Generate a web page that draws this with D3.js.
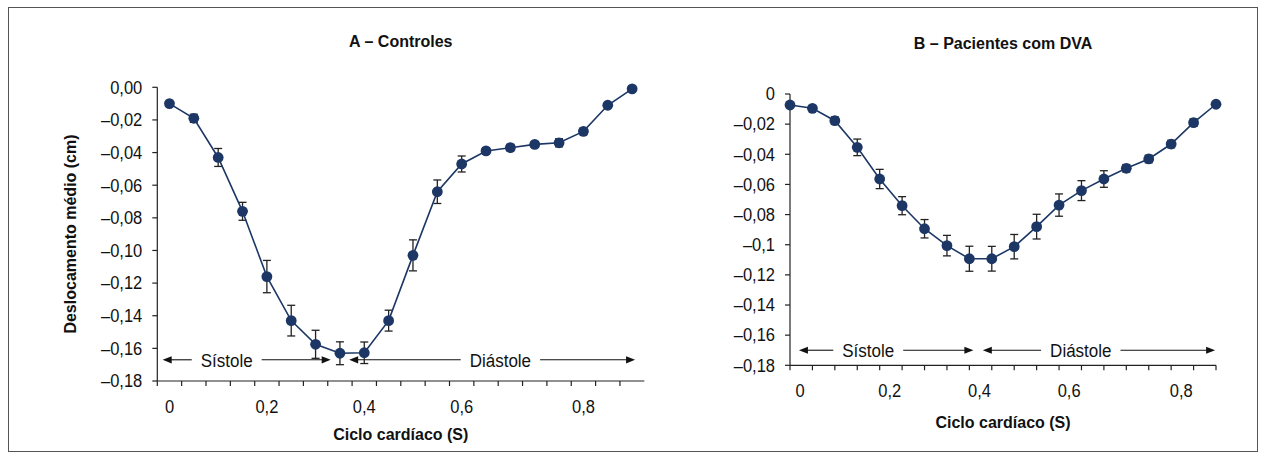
<!DOCTYPE html>
<html>
<head>
<meta charset="utf-8">
<script src="https://cdn.jsdelivr.net/npm/d3@7"></script>
<style>
  body { margin: 0; background: #fff; }
  svg { display: block; font-family: "Liberation Sans", Arial, sans-serif; }
  .tick-label, .phase-label { fill: #111; }
  .title, .axis-title { font-weight: bold; font-size: 16px; fill: #111; }
</style>
</head>
<body>
<svg width="1266" height="460"></svg>
<script>
// mean displacement (cm) and error, one value per point of the cardiac cycle
const controlMean = [-0.010, -0.019, -0.043, -0.076, -0.116, -0.143, -0.1575, -0.163, -0.1627, -0.143,
                     -0.103, -0.064, -0.047, -0.039, -0.037, -0.035, -0.034, -0.027, -0.011, -0.001]
const controlErr  = [0.001, 0.0025, 0.0055, 0.0055, 0.0099, 0.0094, 0.0086, 0.007, 0.0066, 0.0064,
                     0.0095, 0.0072, 0.0049, 0.002, 0.002, 0.0015, 0.0025, 0.002, 0.0015, 0.001]
const dvaMean = [-0.0073, -0.0095, -0.0177, -0.0354, -0.0564, -0.0741, -0.0894, -0.1006, -0.1093, -0.1093,
                 -0.1013, -0.088, -0.0737, -0.0641, -0.0564, -0.0493, -0.0431, -0.0332, -0.019, -0.0068]
const dvaErr  = [0.001, 0.001, 0.0025, 0.0055, 0.0064, 0.006, 0.0061, 0.0068, 0.0083, 0.0082,
                 0.0081, 0.0082, 0.0074, 0.0066, 0.0055, 0.0025, 0.0025, 0.0025, 0.0025, 0.001]

// x tick labels and the point index they sit under
const xLabels = ["0", "0,2", "0,4", "0,6", "0,8"]
const xLabelAt = [0, 4, 8, 12, 17]

const yTicks = [0, -0.02, -0.04, -0.06, -0.08, -0.10, -0.12, -0.14, -0.16, -0.18]
const yLabelsA = ["0,00", "–0,02", "–0,04", "–0,06", "–0,08", "–0,10", "–0,12", "–0,14", "–0,16", "–0,18"]
const yLabelsB = ["0", "–0,02", "–0,04", "–0,06", "–0,08", "–0,1", "–0,12", "–0,14", "–0,16", "–0,18"]

// systole / diastole arrows, in point-index units
const phasesA = [{name: "Sístole", from: -0.28, to: 6.62, at: 2.35},
                 {name: "Diástole", from: 7.38, to: 19.12, at: 13.59}]
const phasesB = [{name: "Sístole", from: 0.4, to: 8.18, at: 3.49},
                 {name: "Diástole", from: 8.6, to: 18.96, at: 12.97}]

const navy = "#1c3765"
const svg = d3.select("svg")

// the source text is a condensed face; regular face stretched upward a bit
const tall = (px, py, s) => `translate(${px},${py}) scale(1,${s})`

svg.append("rect")
  .attr("x", 8.5).attr("y", 7.5)
  .attr("width", 1249).attr("height", 444)
  .attr("fill", "none").attr("stroke", "#555").attr("stroke-width", 1)

function panel(opt) {
  const g = svg.append("g")
  const x = d3.scaleLinear().domain(opt.xDomain).range(opt.xRange)
  const y = d3.scaleLinear().domain([0, -0.18]).range(opt.yRange)
  const [left, right] = opt.xRange
  const bottom = opt.yRange[1]

  // y axis
  g.append("line")
    .attr("x1", left).attr("x2", left)
    .attr("y1", y(0)).attr("y2", y(-0.18))
    .attr("stroke", "#222").attr("stroke-width", 1.2)
  g.selectAll(".ytick").data(yTicks).enter().append("line")
    .attr("x1", left - 5).attr("x2", left)
    .attr("y1", d => y(d)).attr("y2", d => y(d))
    .attr("stroke", "#222").attr("stroke-width", 1.2)
  g.selectAll(".ylab").data(yTicks).enter().append("text")
    .attr("class", "tick-label")
    .attr("transform", d => tall(left - 15, y(d) + 6.3, 1.09))
    .attr("text-anchor", "end")
    .style("font-size", "16.5px")
    .text((d, i) => opt.yLabels[i])

  // x axis
  g.append("line")
    .attr("x1", left).attr("x2", right)
    .attr("y1", bottom).attr("y2", bottom)
    .attr("stroke", "#222").attr("stroke-width", 1.2)
  g.selectAll(".xtick").data(opt.xTicks).enter().append("line")
    .attr("x1", d => x(d)).attr("x2", d => x(d))
    .attr("y1", bottom).attr("y2", bottom + 5)
    .attr("stroke", "#222").attr("stroke-width", 1.2)
  g.selectAll(".xlab").data(xLabels).enter().append("text")
    .attr("class", "tick-label")
    .attr("transform", (d, i) => tall(x(xLabelAt[i] + opt.labelShift), bottom + 32, 1.09))
    .attr("text-anchor", "middle")
    .style("font-size", "16.5px")
    .text(d => d)

  // phase arrows
  opt.phases.forEach(p => {
    const ay = y(opt.arrowY)
    const t = g.append("text")
      .attr("class", "phase-label")
      .attr("transform", tall(x(p.at), ay + 6.8, 1.12))
      .attr("text-anchor", "middle")
      .style("font-size", "17px")
      .text(p.name)
    const half = t.node().getComputedTextLength() / 2 + 9
    const x0 = x(p.from), x1 = x(p.to)
    g.append("line").attr("x1", x0 + 8).attr("x2", x(p.at) - half)
      .attr("y1", ay).attr("y2", ay).attr("stroke", "#111").attr("stroke-width", 1.1)
    g.append("line").attr("x1", x(p.at) + half).attr("x2", x1 - 8)
      .attr("y1", ay).attr("y2", ay).attr("stroke", "#111").attr("stroke-width", 1.1)
    g.append("path").attr("d", `M${x0},${ay}L${x0 + 9},${ay - 3.6}L${x0 + 9},${ay + 3.6}Z`).attr("fill", "#111")
    g.append("path").attr("d", `M${x1},${ay}L${x1 - 9},${ay - 3.6}L${x1 - 9},${ay + 3.6}Z`).attr("fill", "#111")
  })

  const data = opt.mean.map((m, i) => ({i: i, m: m, e: opt.err[i]}))

  // error bars
  const eb = g.selectAll(".err").data(data).enter().append("g")
  eb.append("line")
    .attr("x1", d => x(d.i)).attr("x2", d => x(d.i))
    .attr("y1", d => y(d.m + d.e)).attr("y2", d => y(d.m - d.e))
    .attr("stroke", "#222").attr("stroke-width", 1.3)
  eb.selectAll(".cap").data(d => [d.m + d.e, d.m - d.e].map(v => ({i: d.i, v: v}))).enter().append("line")
    .attr("x1", d => x(d.i) - 4).attr("x2", d => x(d.i) + 4)
    .attr("y1", d => y(d.v)).attr("y2", d => y(d.v))
    .attr("stroke", "#222").attr("stroke-width", 1.3)

  const line = d3.line().x(d => x(d.i)).y(d => y(d.m))
  g.append("path").datum(data)
    .attr("d", line)
    .attr("fill", "none").attr("stroke", navy).attr("stroke-width", 1.6)

  g.selectAll(".pt").data(data).enter().append("circle")
    .attr("cx", d => x(d.i)).attr("cy", d => y(d.m))
    .attr("r", 5.4).attr("fill", navy)

  // titles
  const mid = (left + right) / 2
  g.append("text").attr("class", "title")
    .attr("x", mid).attr("y", opt.titleY)
    .attr("text-anchor", "middle").text(opt.title)
  g.append("text").attr("class", "axis-title")
    .attr("x", mid).attr("y", opt.xTitleY)
    .attr("text-anchor", "middle").text("Ciclo cardíaco (S)")
}

panel({
  title: "A – Controles", titleY: 47, xTitleY: 440,
  xDomain: [-0.5, 19.5], xRange: [157.3, 644.3], yRange: [87.3, 381],
  xTicks: d3.range(-0.5, 19, 1), labelShift: 0,
  yLabels: yLabelsA, mean: controlMean, err: controlErr,
  phases: phasesA, arrowY: -0.167
})

panel({
  title: "B – Pacientes com DVA", titleY: 49, xTitleY: 428,
  xDomain: [0, 19], xRange: [790, 1216], yRange: [94, 365.3],
  xTicks: d3.range(0, 20, 1), labelShift: 0.45,
  yLabels: yLabelsB, mean: dvaMean, err: dvaErr,
  phases: phasesB, arrowY: -0.17
})

svg.append("text").attr("class", "axis-title")
  .attr("transform", "translate(76,234) rotate(-90)")
  .attr("text-anchor", "middle")
  .text("Deslocamento médio (cm)")
</script>
</body>
</html>
